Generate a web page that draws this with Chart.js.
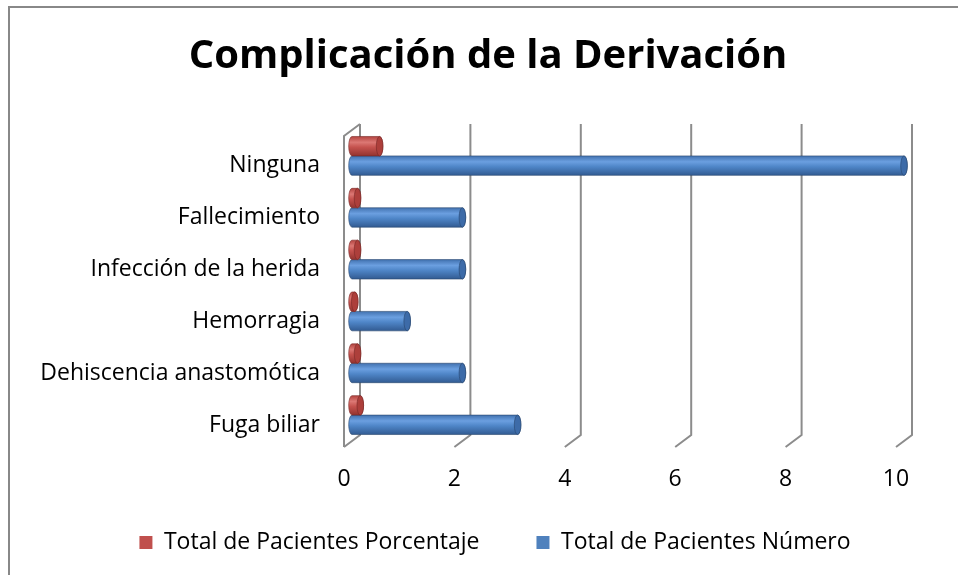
<!DOCTYPE html>
<html>
<head>
<meta charset="utf-8">
<script src="https://cdn.jsdelivr.net/npm/chart.js@4"></script>
<style>
  html, body { margin: 0; padding: 0; background: #fff; }
  #wrap { width: 958px; height: 575px; }
</style>
</head>
<body>
<div id="wrap"><canvas id="chart"></canvas></div>
<script>
/* ── DATA ───────────────────────────────────────── */
const categories = [
  "Ninguna",
  "Fallecimiento",
  "Infección de la herida",
  "Hemorragia",
  "Dehiscencia anastomótica",
  "Fuga biliar",
];
const pacientesPorcentaje = [0.5, 0.1, 0.1, 0.05, 0.1, 0.15];
const pacientesNumero = [10, 2, 2, 1, 2, 3];
const xTicks = [0, 2, 4, 6, 8, 10];

/* ── COLOURS ────────────────────────────────────── */
const shades = [
  { // red
    solid: "#c0504d", edge: "#b3433f", light: "#dc7874", mid: "#c5524e",
    dark: "#93332f", cap: "#ad3f3b", line: "rgba(120,40,38,0.6)",
  },
  { // blue
    solid: "#4f81bd", edge: "#4272b0", light: "#6b9fe0", mid: "#4f86c8",
    dark: "#325b92", cap: "#3d6ba8", line: "rgba(40,70,110,0.6)",
  },
];

/* ── 3D LOOK: frame, walls and grid ─────────────── */
const DX = 8, DY = 6;

const frame = {
  id: "frame",
  beforeDraw(chart) {
    const ctx = chart.ctx;
    ctx.save();
    ctx.strokeStyle = "#888";
    ctx.lineWidth = 2;
    ctx.beginPath();
    ctx.moveTo(9, chart.height);
    ctx.lineTo(9, 7);
    ctx.lineTo(chart.width, 7);
    ctx.stroke();
    ctx.restore();
  },
  // title and legend sit a little right of the plot's middle, legend is tucked up
  afterLayout(chart) {
    const t = chart.titleBlock;
    t.left += 26; t.right += 26;
    const l = chart.legend;
    l.left += 33; l.right += 33;
    l.top = 474;
  },
};

const walls = {
  id: "walls",
  beforeDatasetsDraw(chart) {
    const { ctx, chartArea: a, scales } = chart;
    const x = scales.x;
    ctx.save();
    ctx.strokeStyle = "#8c8c8c";
    ctx.lineWidth = 2;
    ctx.beginPath();
    xTicks.forEach((v) => {
      const px = x.getPixelForValue(v);
      ctx.moveTo(px + DX, a.top - DY);
      ctx.lineTo(px + DX, a.bottom - DY);
      ctx.lineTo(px - DX, a.bottom + DY);
    });
    const p0 = x.getPixelForValue(0);
    ctx.moveTo(p0 + DX, a.top - DY);
    ctx.lineTo(p0 - DX, a.top + DY);
    ctx.lineTo(p0 - DX, a.bottom + DY);
    ctx.stroke();
    ctx.restore();
  },
};

/* ── CYLINDER BARS ──────────────────────────────── */
function drawCylinder(ctx, bar, s) {
  const { x, y, base, height } = bar.getProps(["x", "y", "base", "height"], true);
  const h = height;
  const top = y - h / 2;
  const rx = Math.max(2.5, h * 0.17);

  const g = ctx.createLinearGradient(0, top, 0, top + h);
  g.addColorStop(0, s.edge);
  g.addColorStop(0.3, s.light);
  g.addColorStop(0.55, s.mid);
  g.addColorStop(1, s.dark);

  ctx.save();
  ctx.fillStyle = g;
  ctx.strokeStyle = s.line;
  ctx.lineWidth = 1;
  ctx.beginPath();
  ctx.ellipse(base, y, rx, h / 2, 0, Math.PI / 2, Math.PI * 1.5);
  ctx.lineTo(x, top);
  ctx.ellipse(x, y, rx, h / 2, 0, -Math.PI / 2, Math.PI / 2);
  ctx.closePath();
  ctx.fill();
  ctx.stroke();

  // end cap
  ctx.beginPath();
  ctx.ellipse(x, y, rx, h / 2, 0, 0, Math.PI * 2);
  ctx.fillStyle = s.cap;
  ctx.fill();
  ctx.stroke();
  ctx.restore();
}

const cylinders = {
  id: "cylinders",
  beforeDatasetDraw(chart, args) {
    const s = shades[args.index];
    args.meta.data.forEach((bar) => drawCylinder(chart.ctx, bar, s));
    return false;
  },
};

/* ── CHART ──────────────────────────────────────── */
Chart.defaults.font.family = "'Open Sans', sans-serif";
Chart.defaults.color = "#000";

new Chart(document.getElementById("chart"), {
  type: "bar",
  data: {
    labels: categories,
    datasets: [
      {
        label: "Total de Pacientes Porcentaje",
        data: pacientesPorcentaje,
        backgroundColor: shades[0].solid,
        borderWidth: 0,
      },
      {
        label: "Total de Pacientes Número",
        data: pacientesNumero,
        backgroundColor: shades[1].solid,
        borderWidth: 0,
      },
    ],
  },
  options: {
    indexAxis: "y",
    responsive: true,
    maintainAspectRatio: false,
    animation: false,
    categoryPercentage: 0.75,
    barPercentage: 1.0,
    layout: { padding: { left: 20, right: 54, top: 0, bottom: 0 } },
    scales: {
      x: {
        min: 0,
        max: 10,
        afterBuildTicks: (s) => { s.ticks = xTicks.map((v) => ({ value: v })); },
        afterFit: (s) => { s.height = 54; },
        grid: { display: false, drawTicks: false },
        border: { display: false },
        ticks: { font: { size: 23 }, padding: 25, labelOffset: -8 },
      },
      y: {
        afterFit: (s) => { s.width = 332; },
        grid: { display: false, drawTicks: false },
        border: { display: false },
        ticks: { font: { size: 23 }, padding: 32, labelOffset: 10 },
      },
    },
    plugins: {
      title: {
        display: true,
        text: "Complicación de la Derivación",
        font: { size: 40, weight: "bold" },
        padding: { top: 33, bottom: 49 },
      },
      legend: {
        position: "bottom",
        maxHeight: 80,
        labels: { font: { size: 23 }, boxWidth: 13, boxHeight: 13, padding: 57 },
      },
      tooltip: { enabled: false },
    },
  },
  plugins: [frame, walls, cylinders],
});
</script>
</body>
</html>
